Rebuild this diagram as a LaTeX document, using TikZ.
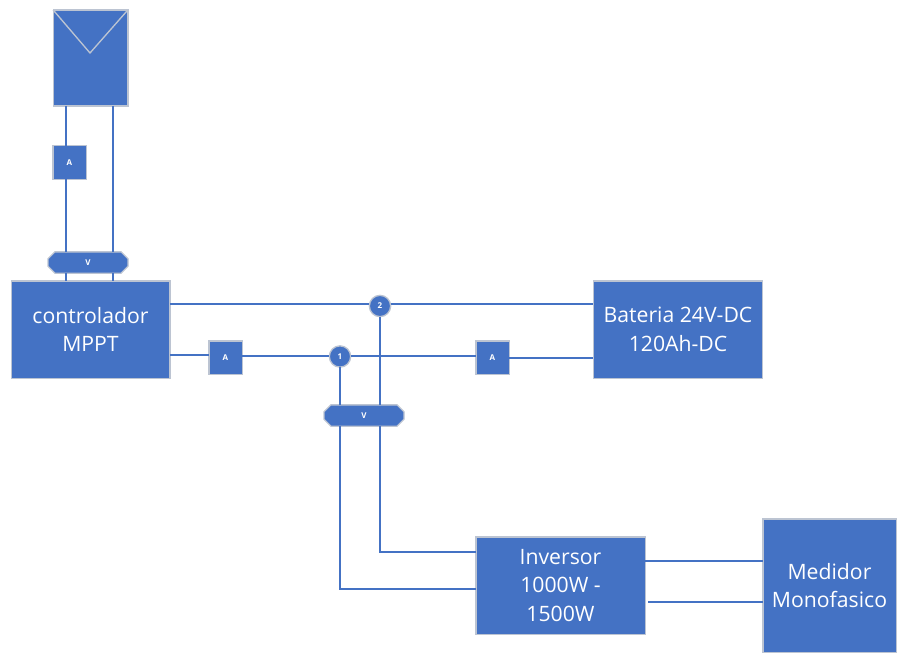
\documentclass[tikz,border=0pt]{standalone}
\usepackage{fontspec}
\setmainfont{Open Sans}
\usetikzlibrary{backgrounds}
\definecolor{boxblue}{HTML}{4472C4}
\definecolor{boxedge}{HTML}{BCC4D2}
\tikzset{block/.style={rectangle, draw=boxedge, fill=boxblue, line width=1pt, text=white, align=center, inner sep=0pt, outer sep=0pt, font=\fontsize{15.9}{21.3}\selectfont},
meter/.style={block, minimum size=25pt, font=\fontsize{6}{8}\selectfont\bfseries},
probe/.style={block, circle, minimum size=16pt, font=\fontsize{6}{8}\selectfont\bfseries},
volt/.style={rectangle, text=white, inner sep=0pt, outer sep=0pt, minimum width=60pt, minimum height=16pt, font=\fontsize{6}{8}\selectfont\bfseries},
edge/.style={draw=boxedge, fill=boxblue, line width=1pt},
wire/.style={draw=boxblue, line width=1.5pt}}

\begin{document}
\begin{tikzpicture}[x=0.75pt, y=-0.75pt]

\useasboundingbox (0,0) rectangle (909,663);

\node[block, minimum width=56pt, minimum height=72pt] (panel) at (90.5,58) {};
\node[block, minimum width=119pt, minimum height=73pt] (ctrl) at (90.5,329.5) {controlador\\MPPT};
\node[block, minimum width=127pt, minimum height=73pt] (batt) at (678,329.5) {Bateria 24V-DC\\120Ah-DC};
\node[block, minimum width=127pt, minimum height=73pt] (inv) at (560.5,585.5) {Inversor\\1000W -\\1500W};
\node[block, minimum width=100pt, minimum height=100pt] (med) at (829.5,585.5) {Medidor\\Monofasico};

\node[meter] (a1) at (69.5,162.5) {A};
\node[meter] (a2) at (225.5,357.5) {A};
\node[meter] (a3) at (492.5,357.5) {A};

\node[volt] (v1) at (88,262.5) {V};
\node[volt] (v2) at (364,415.5) {V};

\node[probe] (c1) at (340,356.5) {1};
\node[probe] (c2) at (380,306) {2};

\begin{pgfonlayer}{background}
\foreach \i in {v1,v2}
    \draw[edge] ([xshift=5.2pt]\i.north west) -- ([xshift=-5.2pt]\i.north east) -- ([yshift=-5.2pt]\i.north east) -- ([yshift=5.2pt]\i.south east) -- ([xshift=-5.2pt]\i.south east) -- ([xshift=5.2pt]\i.south west) -- ([yshift=5.2pt]\i.south west) -- ([yshift=-5.2pt]\i.north west) -- cycle;
\end{pgfonlayer}

\coordinate (apex) at (90,53);
\draw[draw=boxedge, line width=1pt] (panel.north west) -- (apex) -- (panel.north east);

% rails of the wires
\coordinate (pvl) at (66,0);
\coordinate (pvr) at (113,0);
\coordinate (top) at (0,304);
\coordinate (low) at (0,355);
\coordinate (mid) at (0,356);
\coordinate (bat) at (0,358);
\coordinate (dcp) at (0,552);
\coordinate (dcn) at (0,589);
\coordinate (acp) at (0,561);
\coordinate (acn) at (0,602);
\coordinate (acs) at (648,0);

\draw[wire] (panel.south -| pvl) -- (a1.north -| pvl);
\draw[wire] (a1.south -| pvl) -- (v1.north -| pvl);
\draw[wire] (v1.south -| pvl) -- (ctrl.north -| pvl);
\draw[wire] (panel.south -| pvr) -- (v1.north -| pvr);
\draw[wire] (v1.south -| pvr) -- (ctrl.north -| pvr);

\draw[wire] (ctrl.east |- top) -- (c2.west |- top);
\draw[wire] (c2.east |- top) -- (batt.west |- top);
\draw[wire] (ctrl.east |- low) -- (a2.west |- low);
\draw[wire] (a2.east |- mid) -- (c1.west |- mid);
\draw[wire] (c1.east |- mid) -- (a3.west |- mid);
\draw[wire] (a3.east |- bat) -- (batt.west |- bat);

\draw[wire] (c1.south) -- (v2.north -| c1);
\draw[wire] (c2.south) -- (v2.north -| c2);
\draw[wire] (v2.south -| c2) |- (inv.west |- dcp);
\draw[wire] (v2.south -| c1) |- (inv.west |- dcn);

\draw[wire] (inv.east |- acp) -- (med.west |- acp);
\draw[wire] (acs |- acn) -- (med.west |- acn);

\end{tikzpicture}
\end{document}
